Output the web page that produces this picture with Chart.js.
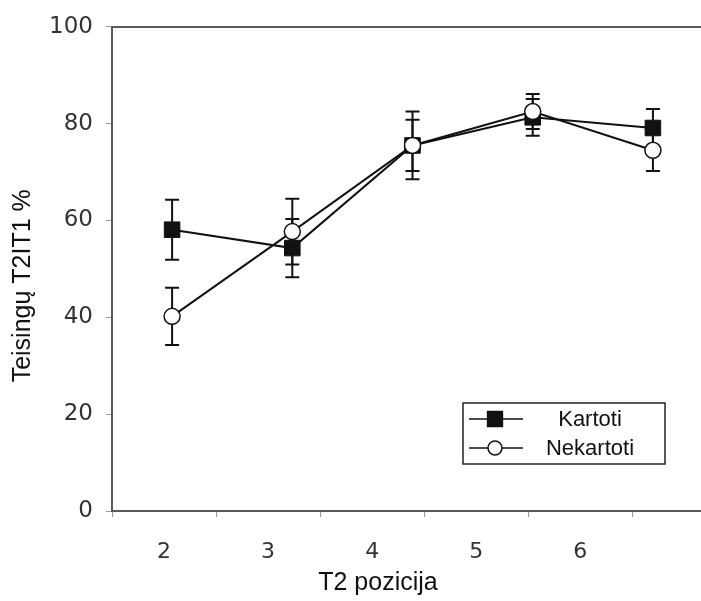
<!DOCTYPE html>
<html>
<head>
<meta charset="utf-8">
<title>T2 pozicija</title>
<script src="https://cdn.jsdelivr.net/npm/chart.js@4.4.1/dist/chart.umd.min.js"></script>
<style>
  html, body { margin: 0; padding: 0; background: #fff; overflow: hidden; }
  #wrap { width: 701px; height: 601px; }
  canvas { display: block; }
</style>
</head>
<body>
<div id="wrap"><canvas id="c" width="701" height="601"></canvas></div>
<script>
// T2 positions and their axis labels
const positions = [2, 3, 4, 5, 6];
const tickLabels = ['2', '3', '4', '5', '6'];
const yTicks = [0, 20, 40, 60, 80, 100];

// Correct T2|T1 responses (%) with error bar half-lengths
const kartoti = [58.1, 54.3, 75.5, 81.3, 79.1];
const kartotiErr = [6.2, 6.0, 7.0, 3.8, 3.9];
const nekartoti = [40.2, 57.7, 75.5, 82.5, 74.5];
const nekartotiErr = [5.9, 6.8, 5.3, 3.6, 4.3];

const seriesNames = ['Kartoti', 'Nekartoti'];
const xTitle = 'T2 pozicija';
const yTitle = 'Teisingų T2IT1 %';

const INK = '#111';
const FRAME = '#5a5a5a';
const TICK = '#9a9a9a';

// Vertical error bars with caps, drawn under the lines and markers
const errorBars = {
  id: 'errorBars',
  beforeDatasetsDraw(chart) {
    const { ctx } = chart;
    const xs = chart.scales.x, ys = chart.scales.y;
    ctx.save();
    ctx.strokeStyle = INK;
    ctx.lineWidth = 2;
    chart.data.datasets.forEach(ds => {
      ds.data.forEach((pt, i) => {
        const e = ds.errors[i];
        const px = xs.getPixelForValue(pt.x);
        const top = ys.getPixelForValue(pt.y + e);
        const bot = ys.getPixelForValue(pt.y - e);
        ctx.beginPath();
        ctx.moveTo(px, top); ctx.lineTo(px, bot);
        ctx.moveTo(px - 7, top); ctx.lineTo(px + 7, top);
        ctx.moveTo(px - 7, bot); ctx.lineTo(px + 7, bot);
        ctx.stroke();
      });
    });
    ctx.restore();
  }
};

// Boxed legend in the lower right of the plot
const boxLegend = {
  id: 'boxLegend',
  afterDraw(chart) {
    const { ctx, chartArea: a } = chart;
    const w = 202, h = 61;
    const x0 = a.right - 36 - w;
    const y0 = a.bottom - 47 - h;
    ctx.save();
    ctx.fillStyle = '#fff';
    ctx.fillRect(x0, y0, w, h);
    ctx.strokeStyle = '#222';
    ctx.lineWidth = 1.5;
    ctx.strokeRect(x0, y0, w, h);
    const rows = [
      { name: seriesNames[0], style: 'rect', radius: 10.5, fill: INK, y: y0 + 16 },
      { name: seriesNames[1], style: 'circle', radius: 7, fill: '#fff', y: y0 + 45 }
    ];
    rows.forEach(r => {
      ctx.strokeStyle = INK;
      ctx.lineWidth = 1.5;
      ctx.beginPath();
      ctx.moveTo(x0 + 6, r.y); ctx.lineTo(x0 + 60, r.y);
      ctx.stroke();
      ctx.fillStyle = r.fill;
      ctx.strokeStyle = INK;
      ctx.lineWidth = 1.5;
      Chart.helpers.drawPoint(ctx, { pointStyle: r.style, radius: r.radius, borderWidth: 1.5, rotation: 0 }, x0 + 32, r.y);
      ctx.fillStyle = INK;
      ctx.font = '22px "Liberation Sans", Arial, sans-serif';
      ctx.textAlign = 'center';
      ctx.textBaseline = 'middle';
      ctx.fillText(r.name, x0 + 127, r.y + 1);
    });
    ctx.restore();
  }
};

// Axis titles
const axisTitles = {
  id: 'axisTitles',
  afterDraw(chart) {
    const { ctx, chartArea: a } = chart;
    ctx.save();
    ctx.fillStyle = INK;
    ctx.font = '25px "Liberation Sans", Arial, sans-serif';
    ctx.textAlign = 'center';
    ctx.textBaseline = 'middle';
    ctx.fillText(xTitle, a.left + 266, a.bottom + 72);
    ctx.translate(a.left - 89, a.top + 259);
    ctx.rotate(-Math.PI / 2);
    ctx.fillText(yTitle, 0, 0);
    ctx.restore();
  }
};

// Horizontal axes span the full width up to the right edge
const noSidePadding = s => { s.paddingLeft = 0; s.paddingRight = 0; };

const toPoints = vals => positions.map((x, i) => ({ x, y: vals[i] }));

new Chart(document.getElementById('c'), {
  type: 'line',
  data: {
    datasets: [
      {
        label: seriesNames[0],
        data: toPoints(kartoti),
        errors: kartotiErr,
        order: 1,
        borderColor: INK,
        borderWidth: 2,
        pointStyle: 'rect',
        pointRadius: 11,
        pointBackgroundColor: INK,
        pointBorderColor: INK,
        pointBorderWidth: 1,
        tension: 0
      },
      {
        label: seriesNames[1],
        data: toPoints(nekartoti),
        errors: nekartotiErr,
        order: 0,
        borderColor: INK,
        borderWidth: 2,
        pointStyle: 'circle',
        pointRadius: 8,
        pointBackgroundColor: '#fff',
        pointBorderColor: INK,
        pointBorderWidth: 1.5,
        tension: 0
      }
    ]
  },
  options: {
    responsive: false,
    animation: false,
    layout: { padding: 0, autoPadding: false },
    plugins: { legend: { display: false }, tooltip: { enabled: false } },
    scales: {
      x: {
        type: 'linear',
        position: 'top',
        min: 1.5,
        max: 6.4,
        ticks: { display: false },
        grid: { display: false },
        border: { display: true, color: FRAME, width: 2 },
        afterFit(s) { s.height = 24; noSidePadding(s); }
      },
      xl: {
        type: 'linear',
        position: 'bottom',
        min: 1.5,
        max: 7.16,
        afterBuildTicks(s) {
          const t = [];
          positions.forEach(p => { t.push({ value: p - 0.5 }); t.push({ value: p }); });
          t.push({ value: positions[positions.length - 1] + 0.5 });
          s.ticks = t;
        },
        ticks: {
          autoSkip: false,
          maxRotation: 0,
          color: '#333',
          padding: 22,
          font: { family: 'DejaVu Sans', size: 22 },
          callback: v => { const i = positions.indexOf(v); return i >= 0 ? tickLabels[i] : ''; }
        },
        grid: {
          drawOnChartArea: false,
          drawTicks: true,
          tickLength: 6,
          color: c => (c.tick && positions.indexOf(c.tick.value) < 0) ? TICK : 'rgba(0,0,0,0)'
        },
        border: { display: true, color: FRAME, width: 2 },
        afterFit(s) { s.height = 90; noSidePadding(s); }
      },
      y: {
        min: 0,
        max: 100,
        afterBuildTicks(s) { s.ticks = yTicks.map(v => ({ value: v })); },
        ticks: {
          color: '#333',
          padding: 13,
          font: { family: 'DejaVu Sans', size: 23 }
        },
        grid: { drawOnChartArea: false, drawTicks: true, tickLength: 6, color: TICK },
        border: { display: true, color: FRAME, width: 2 },
        afterFit(s) { s.width = 112; }
      }
    }
  },
  plugins: [errorBars, boxLegend, axisTitles]
});
</script>
</body>
</html>
